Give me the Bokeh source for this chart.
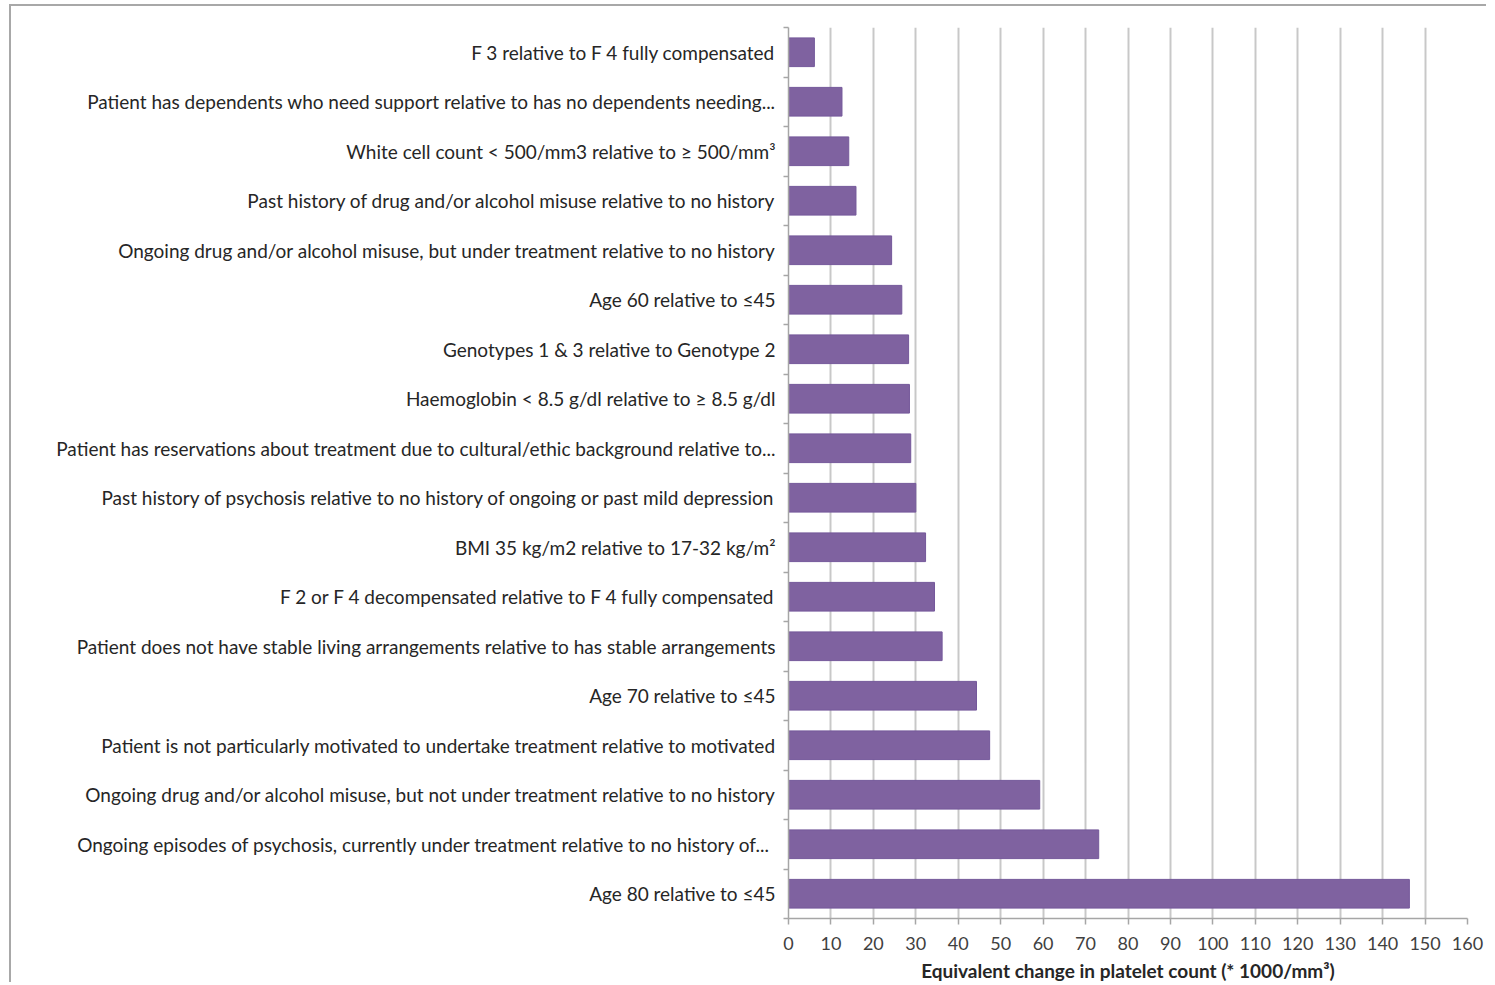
from bokeh.plotting import figure
from bokeh.models import Range1d, FixedTicker
from bokeh.embed import file_html
from bokeh.resources import INLINE

categories = [
    "F 3 relative to F 4 fully compensated",
    "Patient has dependents who need support relative to has no dependents needing...",
    "White cell count < 500/mm3 relative to \u2265 500/mm\u00b3",
    "Past history of drug and/or alcohol misuse relative to no history",
    "Ongoing drug and/or alcohol misuse, but under treatment relative to no history",
    "Age 60 relative to \u226445",
    "Genotypes 1 & 3 relative to Genotype 2",
    "Haemoglobin < 8.5 g/dl relative to \u2265 8.5 g/dl",
    "Patient has reservations about treatment due to cultural/ethic background relative to...",
    "Past history of psychosis relative to no history of ongoing or past mild depression",
    "BMI 35 kg/m2 relative to 17-32 kg/m\u00b2",
    "F 2 or F 4 decompensated relative to F 4 fully compensated",
    "Patient does not have stable living arrangements relative to has stable arrangements",
    "Age 70 relative to \u226445",
    "Patient is not particularly motivated to undertake treatment relative to motivated",
    "Ongoing drug and/or alcohol misuse, but not under treatment relative to no history",
    "Ongoing episodes of psychosis, currently under treatment  relative to no history of...",
    "Age 80 relative to \u226445",
]
values = [6.1, 12.6, 14.2, 15.9, 24.3, 26.7, 28.3, 28.5, 28.8, 30.0,
          32.3, 34.4, 36.2, 44.3, 47.4, 59.2, 73.1, 146.3]
x_ticks = list(range(0, 161, 10))
x_title = "Equivalent change in platelet count (* 1000/mm\u00b3)"

n = len(categories)
idx = list(range(n))

FONT = "Lato"

p = figure(width=1477, height=978, output_backend="svg", toolbar_location=None,
           x_range=Range1d(0, 160), y_range=Range1d(n - 0.5, -0.5),
           min_border_left=777, min_border_right=21, min_border_top=21,
           min_border_bottom=66)
p.outline_line_color = None
p.background_fill_color = "white"
p.border_fill_color = "white"

p.hbar(y=idx, right=values, left=0, height=0.58,
       fill_color="#7f62a0", line_color="#74589a", line_width=1)

# x axis
p.xaxis.ticker = FixedTicker(ticks=x_ticks)
p.xaxis.axis_line_color = "#a6a6a6"
p.xaxis.axis_line_width = 1.5
p.xaxis.major_tick_line_color = "#a6a6a6"
p.xaxis.major_tick_line_width = 1.5
p.xaxis.major_tick_out = 6
p.xaxis.major_tick_in = 0
p.xaxis.minor_tick_line_color = None
p.xaxis.major_label_text_font = FONT
p.xaxis.major_label_text_font_size = "18px"
p.xaxis.major_label_text_color = "#404040"
p.xaxis.major_label_standoff = 12
p.xaxis.axis_label = x_title
p.xaxis.axis_label_text_font = FONT
p.xaxis.axis_label_text_font_size = "19px"
p.xaxis.axis_label_text_font_style = "bold"
p.xaxis.axis_label_text_color = "#262626"
p.xaxis.axis_label_standoff = 6

# y axis
p.yaxis.ticker = FixedTicker(ticks=idx, minor_ticks=[i + 0.5 for i in range(-1, n)])
p.yaxis.major_label_overrides = {i: c for i, c in enumerate(categories)}
p.yaxis.axis_line_color = "#a6a6a6"
p.yaxis.axis_line_width = 1.5
p.yaxis.major_tick_line_color = None
p.yaxis.major_tick_out = 0
p.yaxis.major_tick_in = 0
p.yaxis.minor_tick_line_color = "#a6a6a6"
p.yaxis.minor_tick_line_width = 1.5
p.yaxis.minor_tick_out = 5
p.yaxis.minor_tick_in = 0
p.yaxis.major_label_text_font = FONT
p.yaxis.major_label_text_font_size = "19px"
p.yaxis.major_label_text_color = "#262626"
p.yaxis.major_label_standoff = 8

p.xgrid.ticker = FixedTicker(ticks=x_ticks)
p.xgrid.grid_line_color = "#c8c8c8"
p.xgrid.grid_line_width = 2
p.ygrid.grid_line_color = None

p.styles = {"border-top": "2px solid #a8a8a8", "border-left": "2px solid #a8a8a8",
            "margin-left": "9px", "margin-top": "4px"}

open("out.html", "w").write(file_html(p, INLINE))
